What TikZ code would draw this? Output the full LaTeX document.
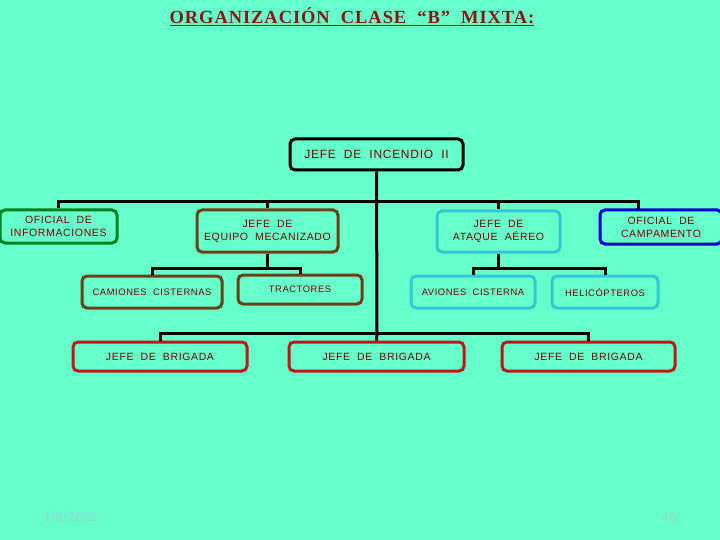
\documentclass[tikz,border=0pt]{standalone}
\usepackage{fontspec}
\setmainfont{Liberation Serif}
\newfontfamily\boxfont[LetterSpace=6]{Liberation Sans}
\newfontfamily\titlefont[LetterSpace=5]{Liberation Serif}
\usepackage{tikz}
\usetikzlibrary{positioning}
\definecolor{bgmint}{RGB}{102,255,204}
\definecolor{textred}{RGB}{128,0,0}
\definecolor{titlered}{RGB}{140,20,20}
\definecolor{linegreen}{RGB}{0,128,30}
\definecolor{linebrown}{RGB}{105,65,25}
\definecolor{linecyan}{RGB}{51,200,210}
\definecolor{lineblue}{RGB}{0,0,210}
\definecolor{linered}{RGB}{190,25,25}
\definecolor{footgray}{RGB}{150,215,205}
\tikzset{x=1pt, y=-1pt,
every node/.style={ % Sets the properties for each box
inner sep=0pt,
text=textred,
align=center,
font=\boxfont\fontsize{10.5}{13}\selectfont},
unit/.style={ % Rounded box of the chart
draw,
line width=3pt,
rounded corners=5pt},
small/.style={ % Second row of boxes
font=\boxfont\fontsize{9.4}{11}\selectfont},
link/.style={ % Lines of the tree
draw=black,
line width=3pt}}
\begin{document}
\begin{tikzpicture}
\useasboundingbox[fill=bgmint] (0,0) rectangle (720,540);
% title
\node[font=\titlefont\bfseries\fontsize{18.5}{20}\selectfont, text=titlered] (title) at (352,17) {\underline{ORGANIZACIÓN\ \ CLASE\ \ “B”\ \ MIXTA:}};
% boxes
\node[unit, draw=black, minimum width=173, minimum height=31, font=\boxfont\fontsize{12}{14}\selectfont] (jefe) at (376.5,154.5) {JEFE\ \ DE\ \ INCENDIO\ \ II};
\node[unit, draw=linegreen, minimum width=117, minimum height=33] (oinf) at (58.5,226.5) {OFICIAL\ \ DE\\INFORMACIONES};
\node[unit, draw=linebrown, minimum width=141, minimum height=42] (equipo) at (267.5,231) {JEFE\ \ DE\\EQUIPO\ \ MECANIZADO};
\node[unit, draw=linecyan, minimum width=123, minimum height=41] (ataque) at (498.5,231.5) {JEFE\ \ DE\\ATAQUE\ \ AÉREO};
\node[unit, draw=lineblue, minimum width=122, minimum height=34] (ocamp) at (661,227) {OFICIAL\ \ DE\\CAMPAMENTO};
\node[unit, small, draw=linebrown, minimum width=140, minimum height=32] (camion) at (152,292) {CAMIONES\ \ CISTERNAS};
\node[unit, small, draw=linebrown, minimum width=124, minimum height=29] (tractor) at (300,289.5) {TRACTORES};
\node[unit, small, draw=linecyan, minimum width=124, minimum height=32] (avion) at (473,292) {AVIONES\ \ CISTERNA};
\node[unit, small, draw=linecyan, minimum width=106, minimum height=32] (helico) at (605,292) {HELICÓPTEROS};
\node[unit, draw=linered, minimum width=174, minimum height=29] (brig1) at (160,356.5) {JEFE\ \ DE\ \ BRIGADA};
\node[unit, draw=linered, minimum width=175, minimum height=29] (brig2) at (376.5,356.5) {JEFE\ \ DE\ \ BRIGADA};
\node[unit, draw=linered, minimum width=173, minimum height=29] (brig3) at (588.5,356.5) {JEFE\ \ DE\ \ BRIGADA};
% tree lines
\coordinate (bar1) at (377,202);
\coordinate (bar2) at (377,333);
\coordinate (sub1) at (267.5,268);
\coordinate (sub2) at (498.5,268);
\coordinate (campin) at (638,210);
\draw[link] (jefe.south) -- (bar2);
\draw[link] (oinf.north) |- (bar1) -| (campin);
\draw[link] (equipo.north) -- (equipo.north |- bar1);
\draw[link] (ataque.north) -- (ataque.north |- bar1);
\draw[link] (equipo.south) -- (sub1);
\draw[link] (camion.north) |- (sub1) -| (tractor.north);
\draw[link] (ataque.south) -- (sub2);
\draw[link] (avion.north) |- (sub2) -| (helico.north);
\draw[link] (brig1.north) |- (bar2) -| (brig3.north);
\draw[link] (brig2.north) -- (bar2);
% footer
\node[font=\boxfont\fontsize{12.5}{14}\selectfont, text=footgray] (date) at (71,517) {1/9/2022};
\node[font=\boxfont\fontsize{12.5}{14}\selectfont, text=footgray] (page) at (669,517) {46};
\end{tikzpicture}
\end{document}
